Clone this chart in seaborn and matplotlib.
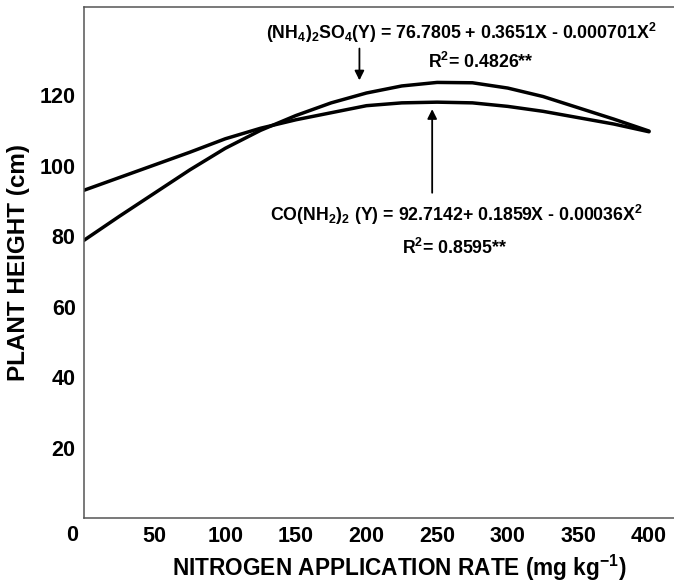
import numpy as np
import matplotlib
matplotlib.use("Agg")
import matplotlib.pyplot as plt
import pandas as pd
import seaborn as sns

# values
n_rate = [0, 25, 50, 75, 100, 125, 150, 175, 200, 225, 250, 275, 300, 325, 350, 375, 400]
sulfate_height = [78.8, 85.6, 92.2, 98.8, 104.9, 110.0, 114.2, 117.8, 120.6, 122.6, 123.6,
                  123.5, 122.0, 119.6, 116.4, 113.2, 109.8]
urea_height = [93.0, 96.6, 100.2, 103.8, 107.6, 110.6, 113.0, 115.0, 117.0, 117.8, 118.0,
               117.8, 116.8, 115.4, 113.6, 111.8, 109.6]
x_ticks = [50, 100, 150, 200, 250, 300, 350, 400]
y_ticks = [20, 40, 60, 80, 100, 120]

sulfate_eq = r"(NH$_4$)$_2$SO$_4$(Y) = 76.7805 + 0.3651X - 0.000701X$^2$"
sulfate_r2 = r"R$^2$= 0.4826**"
urea_eq = r"CO(NH$_2$)$_2$ (Y) = 92.7142+ 0.1859X - 0.00036X$^2$"
urea_r2 = r"R$^2$= 0.8595**"

df = pd.concat([
    pd.DataFrame({"rate": n_rate, "height": sulfate_height, "src": "sulfate"}),
    pd.DataFrame({"rate": n_rate, "height": urea_height, "src": "urea"}),
])

sns.set_style("white")
plt.rcParams["font.family"] = ["Liberation Sans", "DejaVu Sans"]
plt.rcParams["font.weight"] = "bold"
plt.rcParams["mathtext.fontset"] = "custom"
plt.rcParams["mathtext.rm"] = "Liberation Sans:bold"
plt.rcParams["mathtext.it"] = "Liberation Sans:bold"
plt.rcParams["mathtext.bf"] = "Liberation Sans:bold"
for k in ["text.color", "axes.labelcolor", "xtick.color", "ytick.color"]:
    plt.rcParams[k] = "black"

fig = plt.figure(figsize=(6.74, 5.84), dpi=100)
ax = fig.add_axes([0.1246, 0.113, 0.8754, 0.875])

sns.lineplot(data=df, x="rate", y="height", units="src", estimator=None,
             color="black", lw=2.5, ax=ax)

ax.set_xlim(0, 417.7)
ax.set_ylim(0, 145)
ax.set_xticks(x_ticks)
ax.set_yticks(y_ticks)
ax.tick_params(direction="in", length=7, width=1.1, color="#555555", labelsize=15.5, pad=6)
for lab in ax.get_xticklabels() + ax.get_yticklabels():
    lab.set_fontweight("bold")

for s in ["left", "bottom", "top"]:
    ax.spines[s].set_color("#555555")
    ax.spines[s].set_linewidth(1.1)
ax.spines["right"].set_visible(False)

ax.text(-0.02, -0.035, "0", transform=ax.transAxes, ha="center", va="center",
        fontsize=15.5, fontweight="bold")

ax.set_xlabel(r"NITROGEN APPLICATION RATE (mg kg$^{-1}$)",
              fontsize=16.3, fontweight="bold")
ax.xaxis.set_label_coords(0.535, -0.068)
ax.set_ylabel("PLANT HEIGHT (cm)", fontsize=17.5, fontweight="bold")
ax.yaxis.set_label_coords(-0.092, 0.5)

ax.text(267, 137.6, sulfate_eq, fontsize=12.8, fontweight="bold", ha="center", va="center")
ax.text(281, 129.4, sulfate_r2, fontsize=12.8, fontweight="bold", ha="center", va="center")
ax.text(263.5, 86.0, urea_eq, fontsize=12.8, fontweight="bold", ha="center", va="center")
ax.text(262.8, 76.6, urea_r2, fontsize=12.8, fontweight="bold", ha="center", va="center")

ax.annotate("", xy=(195, 123.4), xytext=(195, 134.0),
            arrowprops=dict(arrowstyle="-|>", color="black", lw=1.3, mutation_scale=14))
ax.annotate("", xy=(246.5, 116.8), xytext=(246.5, 91.5),
            arrowprops=dict(arrowstyle="-|>", color="black", lw=1.3, mutation_scale=14))

fig.savefig("out.png", dpi=100)
